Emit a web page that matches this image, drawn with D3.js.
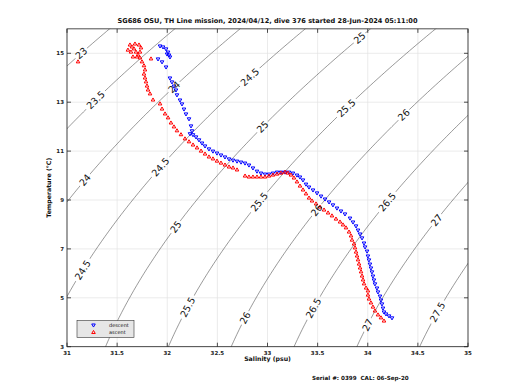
<!DOCTYPE html>
<html><head><meta charset="utf-8">
<script src="https://cdn.jsdelivr.net/npm/d3@7"></script>
<style>body{margin:0;background:#fff}svg{display:block}text{font-family:"DejaVu Sans",sans-serif}</style>
</head><body><svg id="c" width="520" height="390"></svg>
<script>
const title = "SG686 OSU, TH Line mission, 2024/04/12, dive 376 started 28-Jun-2024 05:11:00";
const xLabel = "Salinity (psu)";
const yLabel = "Temperature (\u00B0C)";
const footer = "Serial #: 0399  CAL: 06-Sep-20";
const xTicks = [31, 31.5, 32, 32.5, 33, 33.5, 34, 34.5, 35];
const yTicks = [3, 5, 7, 9, 11, 13, 15];
const sigmaLevels = [22, 22.5, 23, 23.5, 24, 24.5, 25, 25.5, 26, 26.5, 27, 27.5, 28, 28.5];
const labelLevels = [23, 23.5, 24, 24, 24.5, 24.5, 24.5, 25, 25, 25, 25.5, 25.5, 25.5, 26, 26, 26, 26.5, 26.5, 27, 27, 27.5];
const labelTemps  = [15.0, 13.09, 13.62, 9.82, 14.03, 10.35, 6.14, 15.63, 11.99, 7.9, 12.76, 8.92, 4.62, 12.48, 8.59, 4.18, 8.92, 4.58, 8.18, 3.89, 4.42];

const descentS = [31.928,31.958,31.988,32.008,32.017,32.027,31.998,31.908,31.948,31.988,32.027,32.047,32.067,32.087,32.097,32.127,32.147,32.167,32.187,32.217,32.237,32.247,32.227,32.257,32.287,32.317,32.347,32.377,32.416,32.456,32.496,32.536,32.576,32.616,32.656,32.696,32.736,32.776,32.815,32.855,32.895,32.935,32.975,33.015,33.055,33.095,33.135,33.175,33.214,33.254,33.294,33.324,33.354,33.384,33.414,33.454,33.494,33.534,33.574,33.614,33.653,33.693,33.733,33.773,33.823,33.853,33.883,33.903,33.923,33.943,33.963,33.973,33.993,34.002,34.012,34.022,34.032,34.042,34.052,34.062,34.072,34.092,34.102,34.122,34.132,34.142,34.152,34.162,34.182,34.212,34.242];
const descentT = [15.30,15.26,15.18,15.05,14.93,14.85,14.97,14.77,14.65,14.44,13.99,13.83,13.66,13.50,13.30,13.09,12.93,12.72,12.52,12.32,12.03,11.83,11.71,11.67,11.58,11.46,11.33,11.21,11.09,11.00,10.92,10.84,10.76,10.68,10.63,10.59,10.55,10.51,10.43,10.31,10.18,10.10,10.06,10.06,10.10,10.14,10.14,10.14,10.14,10.10,10.02,9.94,9.82,9.65,9.53,9.41,9.29,9.16,9.04,8.92,8.80,8.67,8.55,8.43,8.26,8.10,7.94,7.77,7.61,7.45,7.24,7.08,6.91,6.71,6.55,6.38,6.22,6.06,5.89,5.73,5.57,5.40,5.24,5.07,4.91,4.75,4.58,4.42,4.34,4.26,4.18];

const ascentS = [34.162,34.132,34.102,34.072,34.052,34.032,34.012,34.002,34.002,33.983,33.963,33.953,33.943,33.933,33.923,33.913,33.903,33.893,33.883,33.873,33.863,33.843,33.833,33.813,33.783,33.753,33.723,33.683,33.643,33.604,33.564,33.524,33.484,33.444,33.414,33.384,33.354,33.324,33.294,33.264,33.234,33.204,33.175,33.135,33.095,33.055,33.015,32.975,32.935,32.895,32.855,32.815,32.776,32.696,32.656,32.616,32.576,32.536,32.496,32.456,32.416,32.377,32.337,32.297,32.257,32.217,32.177,32.137,32.097,32.067,32.037,32.008,31.978,31.948,31.928,31.858,31.828,31.808,31.798,31.788,31.778,31.768,31.778,31.768,31.748,31.728,31.708,31.688,31.668,31.648,31.628,31.678,31.718,31.738,31.728,31.698,31.658,31.638,31.608,31.838,31.110];
const ascentT = [4.05,4.18,4.30,4.46,4.62,4.79,4.95,5.11,5.28,5.40,5.57,5.73,5.89,6.06,6.22,6.38,6.55,6.71,6.87,7.04,7.20,7.36,7.53,7.69,7.86,7.98,8.10,8.22,8.35,8.47,8.59,8.71,8.84,8.96,9.08,9.25,9.41,9.57,9.74,9.90,10.02,10.10,10.14,10.10,10.06,10.02,9.98,9.94,9.94,9.94,9.94,9.94,9.98,10.23,10.31,10.35,10.43,10.51,10.59,10.68,10.76,10.88,11.00,11.13,11.25,11.38,11.50,11.67,11.83,11.99,12.15,12.36,12.52,12.72,12.93,13.09,13.34,13.50,13.66,13.83,13.99,14.15,14.32,14.49,14.65,14.81,14.93,15.05,15.18,15.26,15.34,15.38,15.34,15.22,15.05,14.85,14.85,15.05,15.13,14.77,14.65];

// UNESCO EOS-80 surface density anomaly (sigma-t)
function sigmaT(S, T) {
  const rw = 999.842594 + 6.793952e-2*T - 9.095290e-3*T*T + 1.001685e-4*T**3 - 1.120083e-6*T**4 + 6.536332e-9*T**5;
  const A = 8.24493e-1 - 4.0899e-3*T + 7.6438e-5*T*T - 8.2467e-7*T**3 + 5.3875e-9*T**4;
  const B = -5.72466e-3 + 1.0227e-4*T - 1.6546e-6*T*T;
  const C = 4.8314e-4;
  return rw + A*S + B*Math.pow(S,1.5) + C*S*S - 1000;
}
function solveS(level, T) {
  let lo = 20, hi = 45;
  for (let i = 0; i < 60; i++) { const m = (lo+hi)/2; if (sigmaT(m,T) < level) lo = m; else hi = m; }
  return (lo+hi)/2;
}

const svg = d3.select("#c");
const L = 67, R = 468, Tp = 28.85, B = 346.7;
const x = d3.scaleLinear().domain([31,35]).range([L,R]);
const y = d3.scaleLinear().domain([3,16]).range([B,Tp]);

svg.append("defs").append("clipPath").attr("id","clip").append("rect")
  .attr("x",L).attr("y",Tp).attr("width",R-L).attr("height",B-Tp);

// grid
const grid = svg.append("g").attr("stroke","#e3e3e3").attr("stroke-width",0.7);
xTicks.forEach(v => grid.append("line").attr("x1",x(v)).attr("x2",x(v)).attr("y1",Tp).attr("y2",B));
yTicks.forEach(v => grid.append("line").attr("x1",L).attr("x2",R).attr("y1",y(v)).attr("y2",y(v)));

// contour labels + mask
const fmt = d => (Math.round(d*10)/10).toString();
const labels = labelLevels.map((lv,i) => {
  const T = labelTemps[i];
  const S = solveS(lv, T);
  const S2 = solveS(lv, T+0.05), S1 = solveS(lv, T-0.05);
  const dx = x(S2)-x(S1), dy = y(T+0.05)-y(T-0.05);
  const ang = Math.atan2(dy, dx)*180/Math.PI;
  return {lv, px: x(S), py: y(T), ang, txt: fmt(lv)};
});
const mask = svg.select("defs").append("mask").attr("id","gap");
mask.append("rect").attr("x",0).attr("y",0).attr("width",520).attr("height",390).attr("fill","#fff");
labels.forEach(l => {
  const w = l.txt.length*5.6 + 4;
  mask.append("rect").attr("x",-w/2).attr("y",-4).attr("width",w).attr("height",8).attr("fill","#000")
    .attr("transform",`translate(${l.px},${l.py}) rotate(${l.ang})`);
});

// contour lines
const line = d3.line().x(d=>x(d[0])).y(d=>y(d[1]));
const tGrid = d3.range(2.5, 16.6, 0.1);
const cg = svg.append("g").attr("clip-path","url(#clip)").append("g").attr("mask","url(#gap)");
sigmaLevels.forEach(lv => {
  const pts = tGrid.map(T => [solveS(lv,T), T]);
  cg.append("path").attr("d", line(pts)).attr("fill","none").attr("stroke","#444").attr("stroke-width",0.55);
});

// data markers
const dg = svg.append("g").attr("clip-path","url(#clip)");
const tri = d3.symbol().type(d3.symbolTriangle).size(5.5)();
descentS.forEach((s,i) => dg.append("path").attr("d",tri)
  .attr("transform",`translate(${x(s)},${y(descentT[i])}) rotate(180)`)
  .attr("fill","none").attr("stroke","#0000ff").attr("stroke-width",1));
ascentS.forEach((s,i) => dg.append("path").attr("d",tri)
  .attr("transform",`translate(${x(s)},${y(ascentT[i])})`)
  .attr("fill","none").attr("stroke","#ff0000").attr("stroke-width",1));

// contour label text
labels.forEach(l => {
  svg.append("text").attr("transform",`translate(${l.px},${l.py}) rotate(${l.ang})`)
    .attr("text-anchor","middle").attr("dy","0.36em").attr("font-size",9.5).attr("fill","#111").text(l.txt);
});

// axes box and ticks
const ax = svg.append("g");
ax.append("rect").attr("x",L).attr("y",Tp).attr("width",R-L).attr("height",B-Tp)
  .attr("fill","none").attr("stroke","#222").attr("stroke-width",0.8);
const tk = 4;
xTicks.forEach(v => {
  ax.append("line").attr("x1",x(v)).attr("x2",x(v)).attr("y1",B).attr("y2",B-tk).attr("stroke","#222").attr("stroke-width",0.8);
  ax.append("line").attr("x1",x(v)).attr("x2",x(v)).attr("y1",Tp).attr("y2",Tp+tk).attr("stroke","#222").attr("stroke-width",0.8);
  ax.append("text").attr("x",x(v)).attr("y",B+8.5).attr("text-anchor","middle").attr("font-size",5.5).attr("font-weight","bold").attr("fill","#222").text(v);
});
yTicks.forEach(v => {
  ax.append("line").attr("x1",L).attr("x2",L+tk).attr("y1",y(v)).attr("y2",y(v)).attr("stroke","#222").attr("stroke-width",0.8);
  ax.append("line").attr("x1",R).attr("x2",R-tk).attr("y1",y(v)).attr("y2",y(v)).attr("stroke","#222").attr("stroke-width",0.8);
  ax.append("text").attr("x",L-3).attr("y",y(v)).attr("dy","0.35em").attr("text-anchor","end").attr("font-size",5.5).attr("font-weight","bold").attr("fill","#222").text(v);
});

svg.append("text").attr("x",(L+R)/2).attr("y",22.5).attr("text-anchor","middle").attr("font-size",6.6).attr("font-weight","bold").attr("fill","#111").text(title);
svg.append("text").attr("x",(L+R)/2).attr("y",361).attr("text-anchor","middle").attr("font-size",6.2).attr("font-weight","bold").attr("fill","#111").text(xLabel);
svg.append("text").attr("transform",`translate(51,${(Tp+B)/2}) rotate(-90)`).attr("text-anchor","middle").attr("font-size",6.2).attr("font-weight","bold").attr("fill","#111").text(yLabel);
svg.append("text").attr("x",312).attr("y",380).attr("font-size",5.6).attr("font-weight","bold").attr("fill","#111").style("white-space","pre").text(footer);

// legend
const lg = svg.append("g");
lg.append("rect").attr("x",77).attr("y",320.5).attr("width",57).attr("height",17).attr("fill","#e6e6e6").attr("stroke","#333").attr("stroke-width",0.6);
lg.append("path").attr("d",tri).attr("transform","translate(93.5,325) rotate(180)").attr("fill","none").attr("stroke","#0000ff").attr("stroke-width",1);
lg.append("path").attr("d",tri).attr("transform","translate(93.5,332.5)").attr("fill","none").attr("stroke","#ff0000").attr("stroke-width",1);
lg.append("text").attr("x",109).attr("y",326.8).attr("font-size",5).attr("fill","#111").text("descent");
lg.append("text").attr("x",109).attr("y",334.3).attr("font-size",5).attr("fill","#111").text("ascent");
</script></body></html>
